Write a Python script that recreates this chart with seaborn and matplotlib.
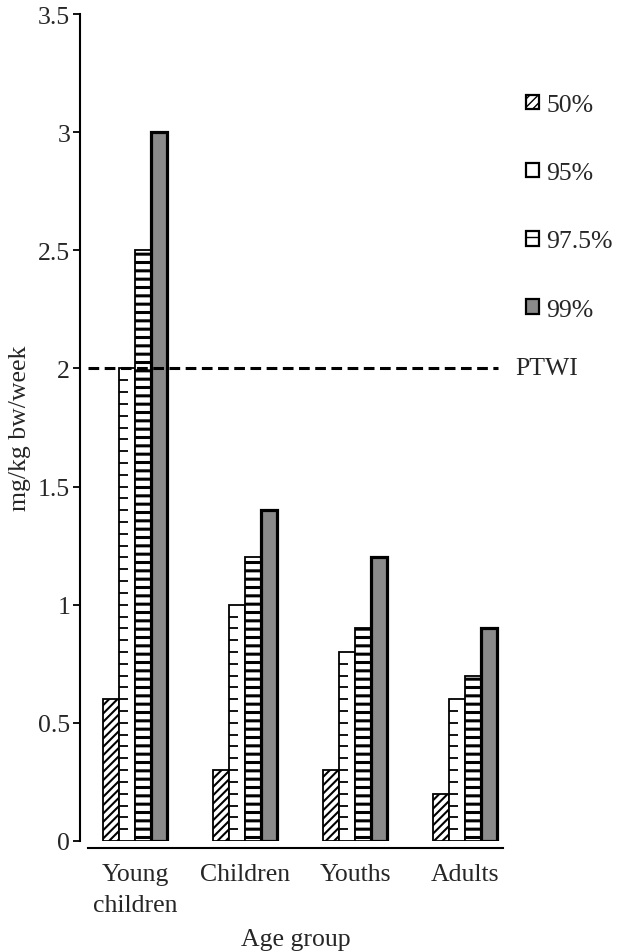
import numpy as np
import pandas as pd
import matplotlib
matplotlib.use("Agg")
from matplotlib import pyplot as plt
from matplotlib.patches import Patch
from matplotlib.transforms import blended_transform_factory
import seaborn as sns

# data
groups = ["Young children", "Children", "Youths", "Adults"]
group_labels = ["Young\nchildren", "Children", "Youths", "Adults"]
percentiles = ["50%", "95%", "97.5%", "99%"]
p50 = [0.6, 0.3, 0.3, 0.2]
p95 = [2.0, 1.0, 0.8, 0.6]
p975 = [2.5, 1.2, 0.9, 0.7]
p99 = [3.0, 1.4, 1.2, 0.9]
ptwi = 2.0
y_ticks = [0, 0.5, 1, 1.5, 2, 2.5, 3, 3.5]
y_tick_labels = ["0", "0.5", "1", "1.5", "2", "2.5", "3", "3.5"]

df = pd.DataFrame({
    "group": groups * len(percentiles),
    "pct": np.repeat(percentiles, len(groups)),
    "value": p50 + p95 + p975 + p99,
})

# look of each percentile
fills = ["white", "white", "white", "#8a8a8a"]
hatches = ["////", "", "--", ""]
edge_widths = [1.3, 1.3, 1.3, 2.3]
hatch_widths = [1.5, 1.0, 2.2, 1.0]

sns.set_theme(style="white")
plt.rcParams["font.family"] = ["Liberation Serif", "DejaVu Serif"]
plt.rcParams["font.size"] = 18.5

fig = plt.figure(figsize=(6.25, 9.53), dpi=100)
ax = fig.add_axes([88 / 625, 1 - 842 / 953, 415 / 625, 827 / 953])

sns.barplot(
    df, x="group", y="value", hue="pct",
    order=groups, hue_order=percentiles,
    palette=fills, saturation=1, width=0.58, gap=0,
    edgecolor="black", legend=False, ax=ax,
)

for container, h, lw, hw in zip(ax.containers, hatches, edge_widths, hatch_widths):
    for bar in container:
        bar.set_hatch(h)
        bar.set_linewidth(lw)
        bar.set_edgecolor("black")
        if hasattr(bar, "set_hatch_linewidth"):
            bar.set_hatch_linewidth(hw)

# short dashes along the left side of the 95% bars
for bar in ax.containers[1]:
    x0 = bar.get_x()
    ys = np.arange(0.05, bar.get_height() - 0.01, 0.05)
    ax.hlines(ys, x0, x0 + 0.08, color="black", lw=1.3)

# PTWI line
ax.axhline(ptwi, xmin=0, xmax=0.988, color="black", lw=2.2,
           ls=(0, (3.5, 1.8)))
trans = blended_transform_factory(ax.transAxes, ax.transData)
ax.text(1.029, ptwi, "PTWI", transform=trans, va="center", ha="left",
        fontsize=18.5, clip_on=False)

ax.set_xlim(-0.43, 3.345)
ax.set_ylim(0, 3.5)
ax.set_yticks(y_ticks)
ax.set_yticklabels(y_tick_labels)
ax.set_xticks(range(len(groups)))
ax.set_xticklabels(group_labels)
ax.set_xlabel("Age group", fontsize=18.5, labelpad=9)
ax.set_ylabel("mg/kg bw/week", fontsize=18.5, labelpad=5)

sns.despine(ax=ax)
ax.spines["left"].set_position(("outward", 5.8))
ax.spines["bottom"].set_position(("outward", 5.0))
for s in ["left", "bottom"]:
    ax.spines[s].set_linewidth(1.5)
    ax.spines[s].set_color("black")
ax.tick_params(axis="y", direction="out", length=5, width=1.3,
               color="black", labelsize=18.5, pad=2, left=True)
ax.tick_params(axis="x", length=0, labelsize=18.5, pad=11)
for lab in ax.get_xticklabels():
    lab.set_linespacing(1.5)

legend_handles = [
    Patch(facecolor=f, edgecolor="black", hatch=h, linewidth=1.6)
    for f, h in zip(fills, hatches)
]
fig.legend(
    legend_handles, percentiles, loc="upper left",
    bbox_to_anchor=(526 / 625, 1 - 95 / 953),
    frameon=False, fontsize=18.5,
    handlelength=0.5, handleheight=0.5, handletextpad=0.3,
    labelspacing=1.8, borderpad=0, borderaxespad=0,
)

fig.savefig("out.png", dpi=100)
